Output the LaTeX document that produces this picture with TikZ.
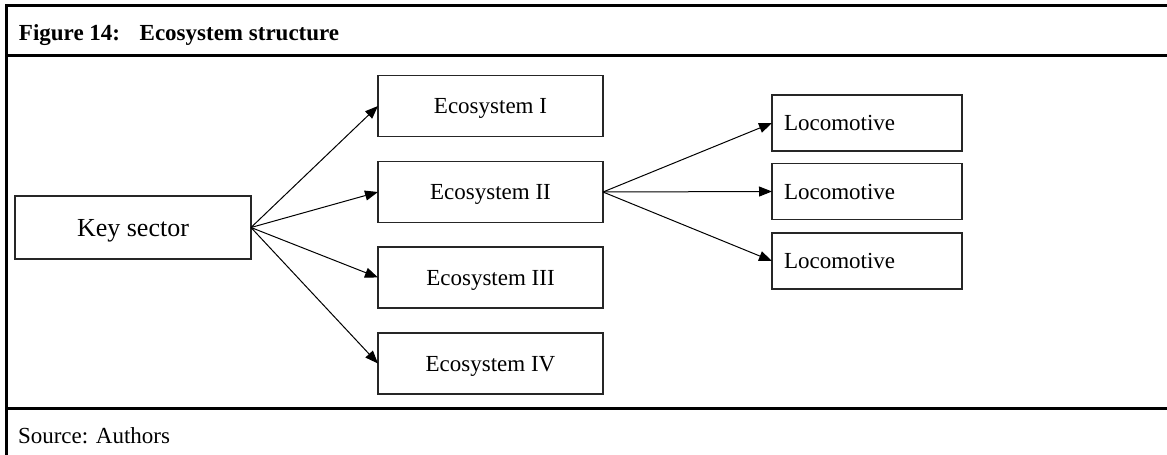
\documentclass[tikz,border=0pt]{standalone}
\usepackage{fontspec}
\setmainfont{Liberation Serif}
\usetikzlibrary{arrows.meta}
\tikzset{
  frameline/.style={line width=3pt, black},
  box/.style={draw=black!85, line width=1.3pt, rectangle, inner sep=0pt, outer sep=0pt,
    font=\fontsize{23}{27}\selectfont, text height=15.2pt, text depth=0pt},
  ecobox/.style={box, minimum width=225pt, minimum height=61pt},
  locobox/.style={box, minimum width=190pt, minimum height=56pt, text width=166pt, align=left},
  conn/.style={line width=1pt, black, -{Triangle[length=13pt,width=10pt]}},
  lbl/.style={inner sep=0pt, outer sep=0pt, font=\fontsize{23}{27}\selectfont}
}
\begin{document}
\begin{tikzpicture}[x=1pt,y=-1pt]
\useasboundingbox (0,0) rectangle (1167,455);
% frame
\coordinate (tl) at (6.5,5.5);
\coordinate (tr) at (1167,5.5);
\coordinate (bl) at (6.5,455);
\coordinate (hl1) at (6.5,55);
\coordinate (hr1) at (1167,55);
\coordinate (hl2) at (6.5,408);
\coordinate (hr2) at (1167,408);
\draw[frameline] (tr) -- (tl) -- (bl);
\draw[frameline] (hl1) -- (hr1);
\draw[frameline] (hl2) -- (hr2);
% texts
\node[lbl, anchor=base west] (title) at (19,40) {\bfseries Figure 14:\hspace{0.85em}Ecosystem structure};
\node[lbl, anchor=base west] (source) at (18,443) {Source: Authors};
% boxes
\node[box, minimum width=236pt, minimum height=63pt, font=\fontsize{26}{30}\selectfont, text height=17pt] (key) at (133,227.5) {Key sector};
\node[ecobox] (e1) at (490.5,106) {Ecosystem I};
\node[ecobox] (e2) at (490.5,192) {Ecosystem II};
\node[ecobox] (e3) at (490.5,277.5) {Ecosystem III};
\node[ecobox] (e4) at (490.5,363.5) {Ecosystem IV};
\node[locobox] (l1) at (867,123) {Locomotive};
\node[locobox] (l2) at (867,191.5) {Locomotive};
\node[locobox] (l3) at (867,261) {Locomotive};
% connectors
\foreach \t in {e1,e2,e3,e4} \draw[conn] (key.east) -- (\t.west);
\foreach \t in {l1,l2,l3} \draw[conn] (e2.east) -- (\t.west);
\end{tikzpicture}
\end{document}
